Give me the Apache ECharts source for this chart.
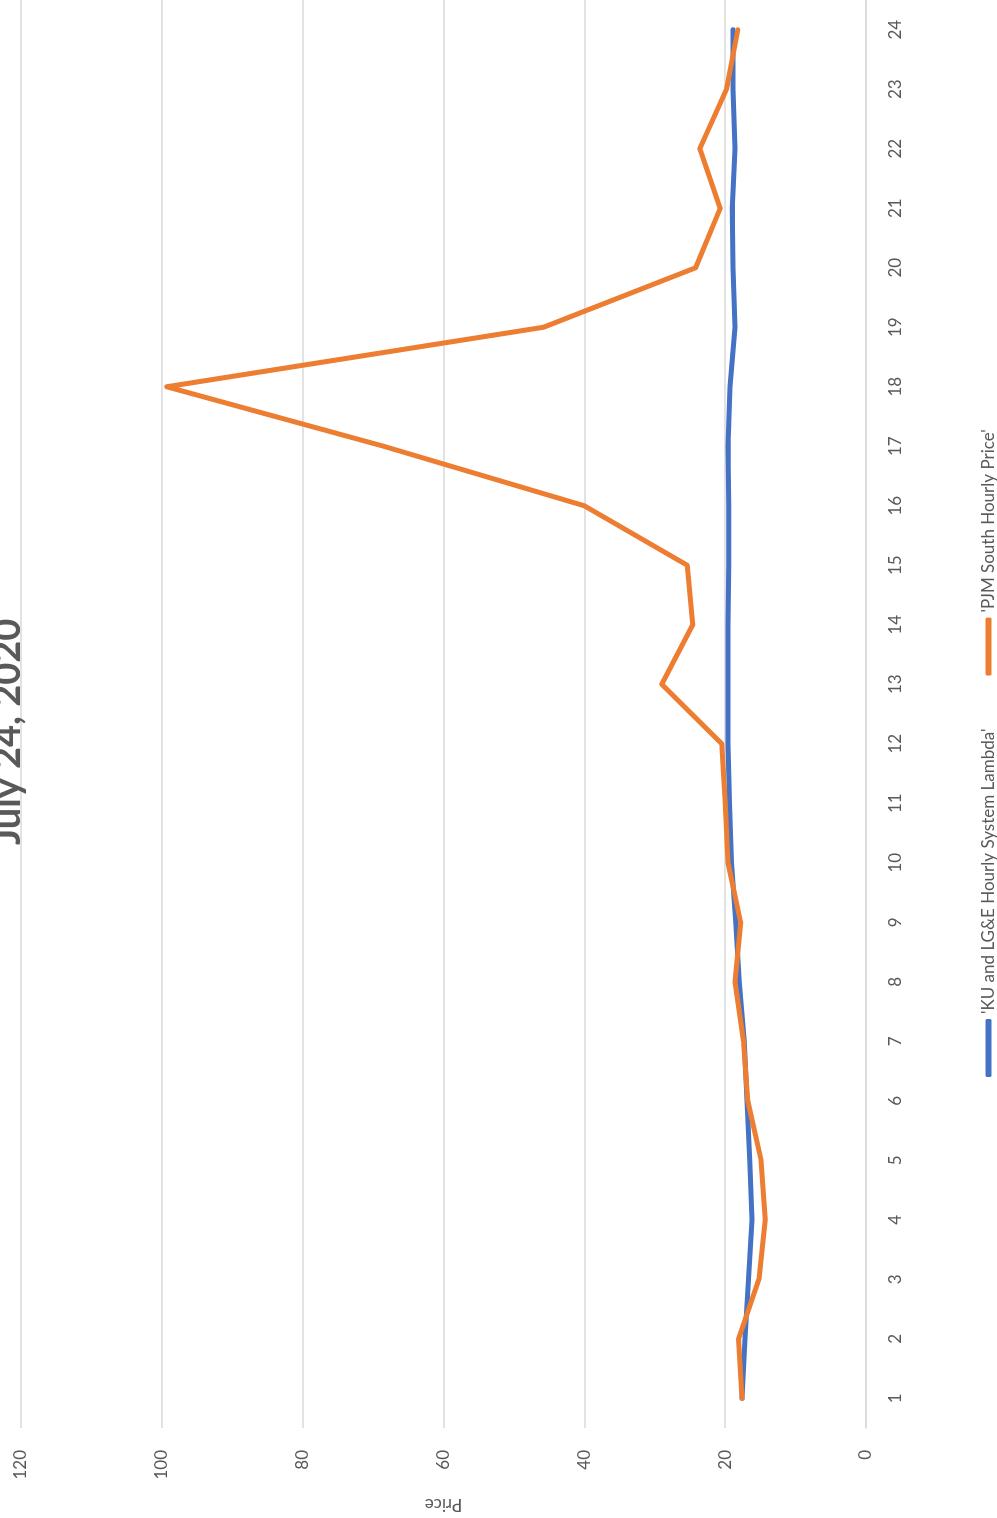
<!DOCTYPE html>
<html>
<head>
<meta charset="utf-8">
<title>July 24, 2020</title>
<script src="https://cdn.jsdelivr.net/npm/echarts@6/dist/echarts.min.js"></script>
<style>
  html, body { margin: 0; padding: 0; background: #ffffff; overflow: hidden; }
  body { width: 997px; height: 1518px; position: relative; }
  /* The chart is laid out landscape and turned a quarter turn counter-clockwise onto the portrait page. */
  #chart {
    position: absolute; left: 0; top: 0;
    width: 1518px; height: 997px;
    transform-origin: 0 0;
    transform: translateY(1518px) rotate(-90deg);
  }
</style>
</head>
<body>
<div id="chart"></div>
<script>
const titleText = 'July 24, 2020';
const hours = ['1','2','3','4','5','6','7','8','9','10','11','12','13','14','15','16','17','18','19','20','21','22','23','24'];
const seriesNames = ["'KU and LG&E Hourly System Lambda'", "'PJM South Hourly Price'"];
const kuLambda = [17.6, 17.2, 16.7, 16.2, 16.5, 16.9, 17.3, 18.0, 18.5, 19.1, 19.4, 19.6, 19.6, 19.6, 19.5, 19.5, 19.6, 19.3, 18.6, 18.9, 19.0, 18.6, 18.9, 18.9];
const pjmSouth = [17.6, 18.1, 15.2, 14.3, 14.9, 16.8, 17.4, 18.6, 17.8, 19.6, 20.0, 20.5, 29.0, 24.6, 25.4, 40.0, 68.5, 99.3, 45.8, 24.2, 20.7, 23.6, 19.8, 18.2];
const priceTicks = { min: 0, max: 120, interval: 20 };

const FONT = 'Lato, "Open Sans", sans-serif';
const TEXT = '#595959';
const GRID = '#d9d9d9';

const chart = echarts.init(document.getElementById('chart'), null, { renderer: 'canvas' });
chart.setOption({
  animation: false,
  backgroundColor: '#ffffff',
  textStyle: { fontFamily: FONT },
  title: {
    text: titleText,
    left: 668,
    top: -16,
    textStyle: { fontFamily: FONT, fontSize: 38, fontWeight: 'bold', color: TEXT }
  },
  legend: {
    left: 436,
    top: 975,
    icon: 'roundRect',
    itemWidth: 58,
    itemHeight: 6,
    itemGap: 53,
    textStyle: { fontFamily: FONT, fontSize: 17, color: TEXT },
    data: seriesNames
  },
  grid: { left: 90, right: 0, top: 21, bottom: 131, outerBoundsMode: 'none' },
  xAxis: {
    type: 'category',
    data: hours,
    boundaryGap: true,
    axisLine: { lineStyle: { color: GRID, width: 1.5 } },
    axisTick: { show: false },
    axisLabel: { fontFamily: FONT, fontSize: 17, color: TEXT, margin: 21 }
  },
  yAxis: {
    type: 'value',
    min: priceTicks.min,
    max: priceTicks.max,
    interval: priceTicks.interval,
    name: 'Price',
    nameLocation: 'middle',
    nameRotate: 90,
    nameGap: 68,
    nameTextStyle: { fontFamily: FONT, fontSize: 17, color: TEXT },
    axisLine: { show: false },
    axisTick: { show: false },
    axisLabel: { fontFamily: FONT, fontSize: 17, color: TEXT, margin: 22 },
    splitLine: { lineStyle: { color: GRID, width: 1.5 } }
  },
  series: [
    {
      name: seriesNames[0],
      type: 'line',
      data: kuLambda,
      symbol: 'none',
      color: '#4472C4',
      lineStyle: { width: 5, color: '#4472C4', cap: 'round', join: 'round' }
    },
    {
      name: seriesNames[1],
      type: 'line',
      data: pjmSouth,
      symbol: 'none',
      color: '#ED7D31',
      lineStyle: { width: 5, color: '#ED7D31', cap: 'round', join: 'round' }
    }
  ]
});
</script>
</body>
</html>
